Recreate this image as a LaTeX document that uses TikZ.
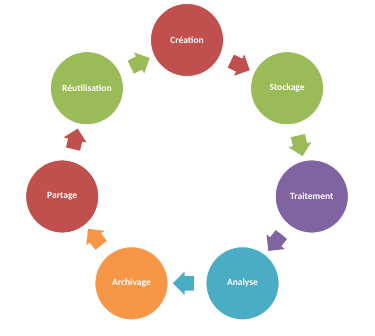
\documentclass[tikz,border=0pt]{standalone}
\usepackage{fontspec}
\setmainfont{Carlito}
\usepackage{tikz}
\usetikzlibrary{shapes.arrows, calc}
\definecolor{myred}{RGB}{192,80,77}
\definecolor{mygreen}{RGB}{155,187,89}
\definecolor{mypurple}{RGB}{128,100,162}
\definecolor{myblue}{RGB}{75,172,198}
\definecolor{myorange}{RGB}{247,150,70}
\tikzset{
  stage/.style={circle, draw=white, line width=0.8pt, minimum size=73pt,
    inner sep=0pt, text=white, font=\fontsize{9.5}{11}\selectfont\bfseries},
  blockarrow/.style={single arrow, draw=none, minimum height=21pt,
    single arrow head extend=4.5pt, inner xsep=0pt, inner ysep=7pt}
}

\begin{document}
\begin{tikzpicture}
  \useasboundingbox (-187pt,-167pt) rectangle (188pt,168pt);

  % Stages of the cycle
  \node[stage, fill=myred] (creation) at (90:128pt) {Création};
  \node[stage, fill=mygreen] (stockage) at (38.57:128pt) {Stockage};
  \node[stage, fill=mypurple] (traitement) at (-12.86:128pt) {Traitement};
  \node[stage, fill=myblue] (analyse) at (-64.29:128pt) {Analyse};
  \node[stage, fill=myorange] (archivage) at (-115.71:128pt) {Archivage};
  \node[stage, fill=myred] (partage) at (-167.14:128pt) {Partage};
  \node[stage, fill=mygreen] (reutilisation) at (141.43:128pt) {Réutilisation};

  % Block arrows between stages
  \node[blockarrow, fill=myred, rotate=-25.71] (a1) at ($(creation)!0.5!(stockage)$) {};
  \node[blockarrow, fill=mygreen, rotate=-77.14] (a2) at ($(stockage)!0.5!(traitement)$) {};
  \node[blockarrow, fill=mypurple, rotate=-128.57] (a3) at ($(traitement)!0.5!(analyse)$) {};
  \node[blockarrow, fill=myblue, rotate=180] (a4) at ($(analyse)!0.5!(archivage)$) {};
  \node[blockarrow, fill=myorange, rotate=128.57] (a5) at ($(archivage)!0.5!(partage)$) {};
  \node[blockarrow, fill=myred, rotate=77.14] (a6) at ($(partage)!0.5!(reutilisation)$) {};
  \node[blockarrow, fill=mygreen, rotate=25.71] (a7) at ($(reutilisation)!0.5!(creation)$) {};
\end{tikzpicture}
\end{document}
